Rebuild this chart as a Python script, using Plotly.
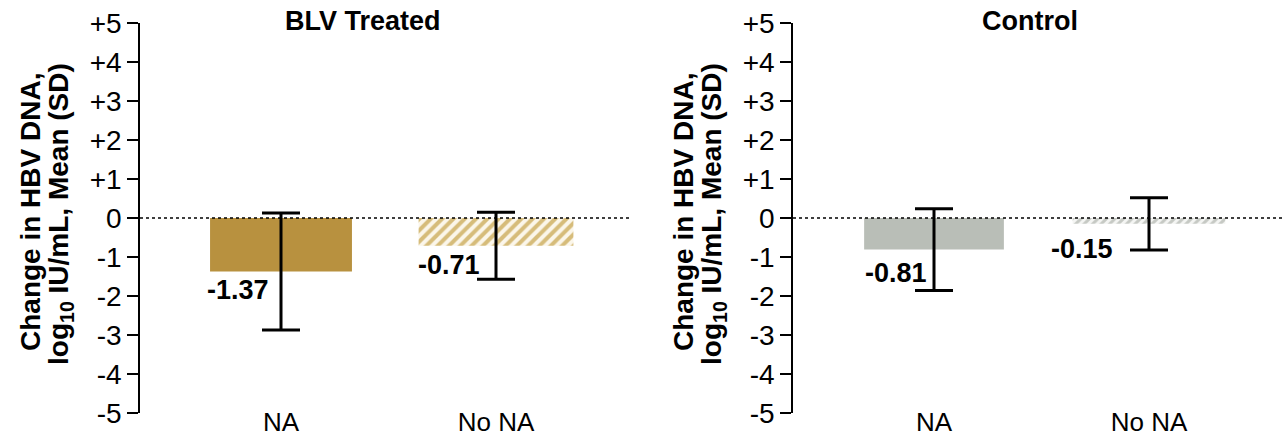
import plotly.graph_objects as go

# ---- data ----
categories = ["NA", "No NA"]
panel_titles = ["BLV Treated", "Control"]
blv_mean = [-1.37, -0.71]
blv_sd = [1.50, 0.86]
ctrl_mean = [-0.81, -0.15]
ctrl_sd = [1.05, 0.67]
y_tickvals = [-5, -4, -3, -2, -1, 0, 1, 2, 3, 4, 5]
y_ticktext = ["-5", "-4", "-3", "-2", "-1", "0", "+1", "+2", "+3", "+4", "+5"]
y_title_1 = "Change in HBV DNA,"
y_title_2 = "log<sub>10</sub> IU/mL, Mean (SD)"

W, H = 1284, 438
FONT = "Liberation Sans, Arial, sans-serif"

fig = go.Figure()
xpos = [0, 1]

# styles per panel / category
bar_styles = [
    [dict(width=0.66, color="#B8913F", shape="", fg="#B8913F", bg="#B8913F", size=8),
     dict(width=0.72, color="#FBF6EA", shape="/", fg="#D6BC7A", bg="#FBF6EA", size=8)],
    [dict(width=0.65, color="#B9BEB7", shape="", fg="#B9BEB7", bg="#B9BEB7", size=6),
     dict(width=0.71, color="#F4F5F3", shape="/", fg="#C6C9C4", bg="#F4F5F3", size=6)],
]

panels = [(blv_mean, blv_sd, "x", "y"), (ctrl_mean, ctrl_sd, "x2", "y2")]
for pi, (means, sds, xa, ya) in enumerate(panels):
    for i in range(len(categories)):
        st = bar_styles[pi][i]
        pattern = dict(shape=st["shape"], fgcolor=st["fg"], bgcolor=st["bg"],
                       size=st["size"], solidity=0.5, fillmode="replace")
        fig.add_trace(go.Bar(
            x=[xpos[i]], y=[means[i]], width=st["width"],
            marker=dict(color=st["color"], line=dict(width=0), pattern=pattern),
            error_y=dict(type="data", array=[sds[i]], visible=True, color="black",
                         thickness=3, width=19),
            xaxis=xa, yaxis=ya, showlegend=False,
        ))

def px_x(p):
    return p / W

def px_y(p):
    return 1 - p / H

ydom = [px_y(413), px_y(23)]
u = 215.0
x1_dom = [px_x(140), px_x(632)]
x2_dom = [px_x(793), 1.0]
x1_range = [-141 / u, -141 / u + 492 / u]
x2_range = [-141 / u, -141 / u + 491 / u]

yaxis_common = dict(
    range=[-5, 5], tickvals=y_tickvals, ticktext=y_ticktext,
    showline=True, linecolor="black", linewidth=1.5,
    ticks="outside", ticklen=11, tickwidth=1.5, tickcolor="black",
    showgrid=False, zeroline=False, domain=ydom,
    tickfont=dict(family=FONT, size=28, color="black"), fixedrange=True,
    automargin=False,
)
xaxis_common = dict(
    tickvals=xpos, ticktext=categories, showline=False, showgrid=False,
    zeroline=False, ticks="", ticklen=0, ticklabelstandoff=-9,
    tickfont=dict(family=FONT, size=26, color="black"), fixedrange=True,
    automargin=False,
)

fig.update_layout(
    width=W, height=H,
    margin=dict(l=0, r=0, t=0, b=0, autoexpand=False),
    paper_bgcolor="white", plot_bgcolor="white",
    font=dict(family=FONT, color="black"),
    barmode="overlay",
    xaxis=dict(domain=x1_dom, range=x1_range, anchor="y", **xaxis_common),
    yaxis=dict(anchor="x", **yaxis_common),
    xaxis2=dict(domain=x2_dom, range=x2_range, anchor="y2", **xaxis_common),
    yaxis2=dict(anchor="x2", **yaxis_common),
)

# zero reference dotted lines
for xr in ["x", "x2"]:
    fig.add_shape(type="line", xref=f"{xr} domain", yref=xr.replace("x", "y"),
                  x0=0, x1=1, y0=0, y1=0, layer="above",
                  line=dict(color="black", width=1.5, dash="dot"))

annotations = []
# panel titles
for t, cx in zip(panel_titles, [363, 1030]):
    annotations.append(dict(text="<b>%s</b>" % t, x=px_x(cx), y=px_y(21),
                            xref="paper", yref="paper", showarrow=False,
                            xanchor="center", yanchor="middle",
                            font=dict(family=FONT, size=27, color="black")))
# y-axis titles
for off in [0, 653]:
    annotations.append(dict(text="<b>%s</b>" % y_title_1, x=px_x(30 + off), y=px_y(212),
                            xref="paper", yref="paper", showarrow=False, textangle=-90,
                            xanchor="center", yanchor="middle",
                            font=dict(family=FONT, size=28, color="black")))
    annotations.append(dict(text="<b>%s</b>" % y_title_2, x=px_x(60 + off), y=px_y(214),
                            xref="paper", yref="paper", showarrow=False, textangle=-90,
                            xanchor="center", yanchor="middle",
                            font=dict(family=FONT, size=28, color="black")))

# value labels
label_xshift = [[-10, -14], [-5, -34]]
label_yshift = [[-2, -2], [-6, -8]]
for pi, (means, _, xr, yr) in enumerate(panels):
    for i, v in enumerate(means):
        annotations.append(dict(text="<b>%.2f</b>" % v, x=xpos[i], y=v, xref=xr, yref=yr,
                                xanchor="right", yanchor="top", showarrow=False,
                                xshift=label_xshift[pi][i], yshift=label_yshift[pi][i],
                                font=dict(family=FONT, size=27, color="black")))

fig.update_layout(annotations=annotations)

fig.write_html("out.html", config={"displayModeBar": False},
               post_script="document.body.style.margin='0';document.body.style.overflow='hidden';")
